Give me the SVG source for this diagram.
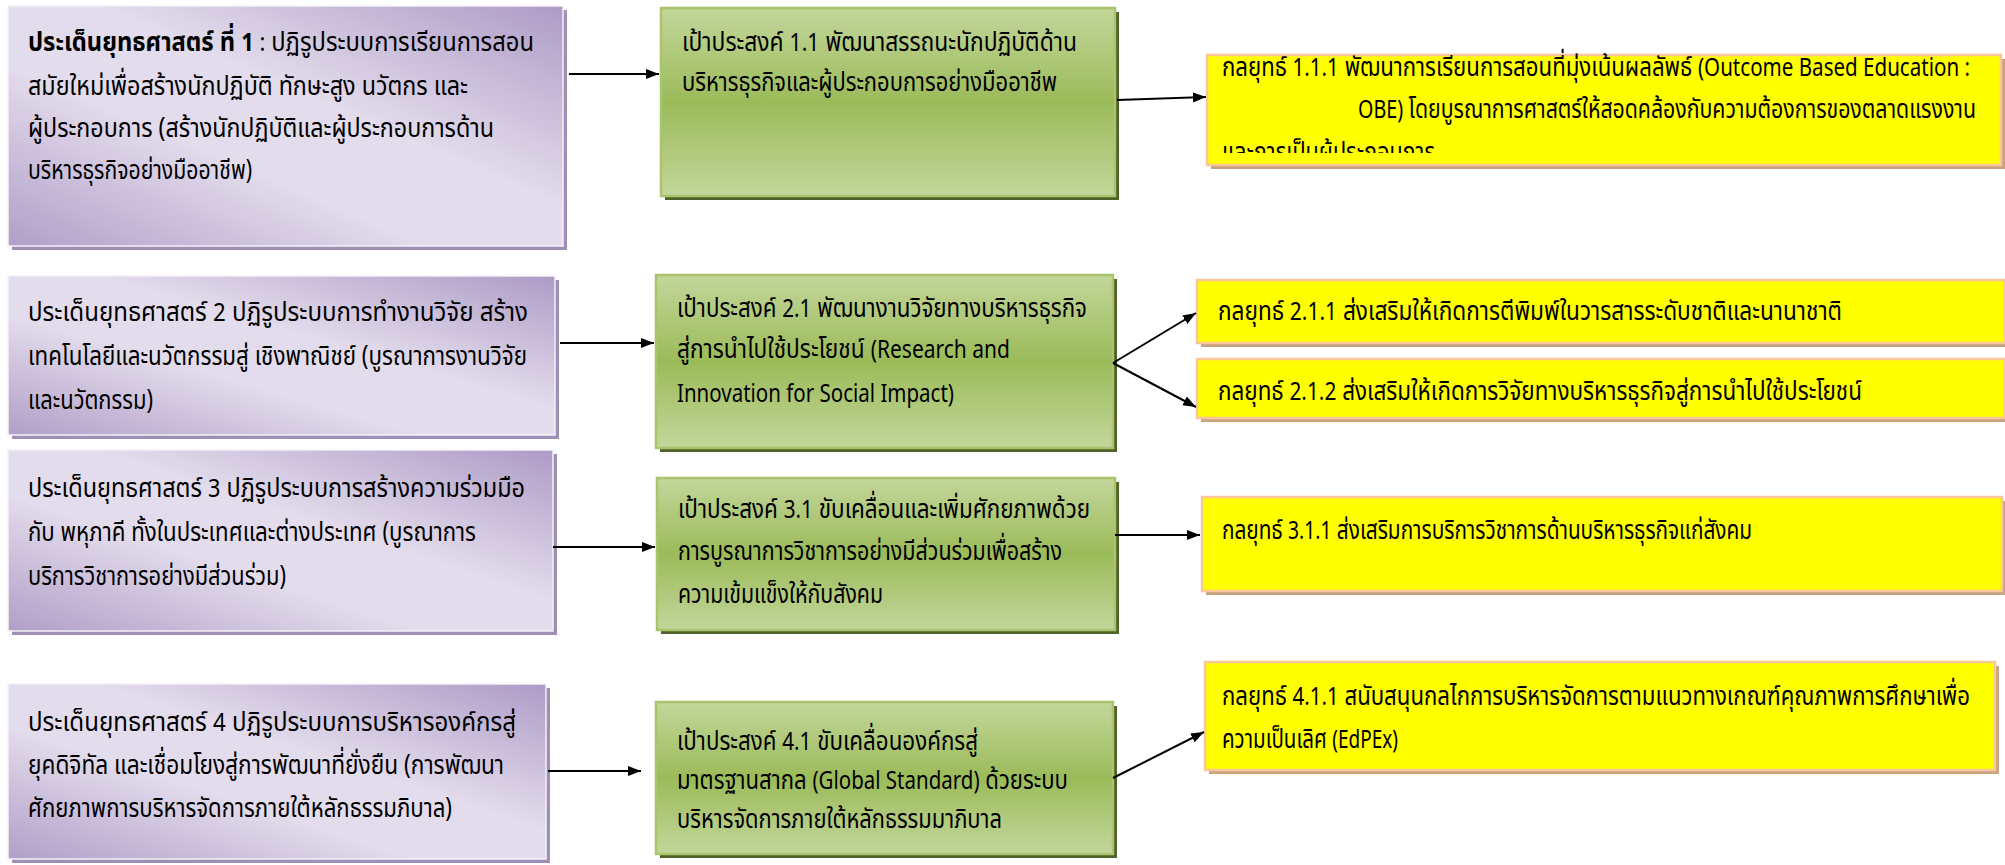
<svg xmlns="http://www.w3.org/2000/svg" width="2005" height="865" viewBox="0 0 2005 865" xml:space="preserve">
<style>
text{font-family:"Noto Sans Thai","Noto Sans","Liberation Sans",sans-serif;font-size:27px;fill:#000}
.l{font-size:25px}
.b{font-weight:bold}
.pbox{fill:url(#gp);stroke:#f4f1f8;stroke-width:1.5}
.psh{fill:#9e90b4}
.gbox{fill:url(#gg);stroke:#a9c46d;stroke-width:2.5}
.gsh{fill:#4f6228}
.ybox{fill:#ffff00;stroke:#fbc59a;stroke-width:2.5}
.ysh{fill:#c8a382}
.con line{stroke:#000;stroke-width:2;marker-end:url(#ah)}
</style>
<defs>
<linearGradient id="gp" x1="1" y1="0" x2="0" y2="1">
<stop offset="0" stop-color="#ad9bc6"/>
<stop offset="0.42" stop-color="#e3dcec"/>
<stop offset="0.62" stop-color="#e3dcec"/>
<stop offset="1" stop-color="#b09fc8"/>
</linearGradient>
<linearGradient id="gg" x1="0" y1="0" x2="0" y2="1">
<stop offset="0" stop-color="#c3d69b"/>
<stop offset="0.5" stop-color="#9bbb59"/>
<stop offset="1" stop-color="#c3d69b"/>
</linearGradient>
<clipPath id="cy1"><rect x="1207" y="55" width="791" height="98"/></clipPath>
<marker id="ah" markerUnits="userSpaceOnUse" markerWidth="14" markerHeight="12" refX="13" refY="5" orient="auto">
<path d="M0,0 L13,5 L0,10 z" fill="#000"/>
</marker>
</defs>

<g id="p1">
<rect class="psh" x="12" y="10" width="555" height="240"/>
<rect class="pbox" x="8" y="6" width="555" height="240"/>
<text x="28" y="51" textLength="506" lengthAdjust="spacingAndGlyphs"><tspan class="b">ประเด็นยุทธศาสตร์ ที่ </tspan><tspan class="b l">1</tspan><tspan class="l"> : </tspan>ปฏิรูประบบการเรียนการสอน</text>
<text x="28" y="95" textLength="440" lengthAdjust="spacingAndGlyphs">สมัยใหม่เพื่อสร้างนักปฏิบัติ  ทักษะสูง นวัตกร และ</text>
<text x="28" y="137" textLength="466" lengthAdjust="spacingAndGlyphs">ผู้ประกอบการ (สร้างนักปฏิบัติและผู้ประกอบการด้าน</text>
<text x="28" y="179" textLength="224" lengthAdjust="spacingAndGlyphs">บริหารธุรกิจอย่างมืออาชีพ)</text>
</g>

<g id="g1">
<rect class="gsh" x="665" y="12" width="454" height="188"/>
<rect class="gbox" x="661" y="8" width="454" height="188"/>
<text x="682" y="51" textLength="395" lengthAdjust="spacingAndGlyphs">เป้าประสงค์  <tspan class="l">1.1</tspan>  พัฒนาสรรถนะนักปฏิบัติด้าน</text>
<text x="682" y="91" textLength="375" lengthAdjust="spacingAndGlyphs">บริหารธุรกิจและผู้ประกอบการอย่างมืออาชีพ</text>
</g>

<g id="y1">
<rect class="ysh" x="1211" y="59" width="794" height="110"/>
<rect class="ybox" x="1207" y="55" width="794" height="110"/>
<text x="1222" y="76" textLength="748" lengthAdjust="spacingAndGlyphs">กลยุทธ์  <tspan class="l">1.1.1</tspan> พัฒนาการเรียนการสอนที่มุ่งเน้นผลลัพธ์ <tspan class="l">(Outcome Based Education :</tspan></text>
<text x="1358" y="118" textLength="618" lengthAdjust="spacingAndGlyphs"><tspan class="l">OBE)</tspan> โดยบูรณาการศาสตร์ให้สอดคล้องกับความต้องการของตลาดแรงงาน</text>
<text x="1222" y="161" textLength="213" lengthAdjust="spacingAndGlyphs" clip-path="url(#cy1)">และการเป็นผู้ประกอบการ</text>
</g>

<g id="p2">
<rect class="psh" x="12" y="280" width="547" height="159"/>
<rect class="pbox" x="8" y="276" width="547" height="159"/>
<text x="28" y="321" textLength="500" lengthAdjust="spacingAndGlyphs">ประเด็นยุทธศาสตร์ <tspan class="l">2</tspan>  ปฏิรูประบบการทำงานวิจัย สร้าง</text>
<text x="28" y="365" textLength="499" lengthAdjust="spacingAndGlyphs">เทคโนโลยีและนวัตกรรมสู่   เชิงพาณิชย์ (บูรณาการงานวิจัย</text>
<text x="28" y="409" textLength="125" lengthAdjust="spacingAndGlyphs">และนวัตกรรม)</text>
</g>

<g id="g2">
<rect class="gsh" x="660" y="279" width="457" height="173"/>
<rect class="gbox" x="656" y="275" width="457" height="173"/>
<text x="677" y="317" textLength="410" lengthAdjust="spacingAndGlyphs">เป้าประสงค์  <tspan class="l">2.1</tspan> พัฒนางานวิจัยทางบริหารธุรกิจ</text>
<text x="677" y="358" textLength="333" lengthAdjust="spacingAndGlyphs">สู่การนำไปใช้ประโยชน์ <tspan class="l">(Research and</tspan></text>
<text x="677" y="402" textLength="277" lengthAdjust="spacingAndGlyphs" class="l">Innovation for Social Impact)</text>
</g>

<g id="y21">
<rect class="ysh" x="1201" y="284" width="804" height="63"/>
<rect class="ybox" x="1197" y="280" width="808" height="63"/>
<text x="1218" y="320" textLength="624" lengthAdjust="spacingAndGlyphs">กลยุทธ์  <tspan class="l">2.1.1</tspan>  ส่งเสริมให้เกิดการตีพิมพ์ในวารสารระดับชาติและนานาชาติ</text>
</g>

<g id="y22">
<rect class="ysh" x="1201" y="363" width="804" height="59"/>
<rect class="ybox" x="1197" y="359" width="808" height="59"/>
<text x="1218" y="400" textLength="644" lengthAdjust="spacingAndGlyphs">กลยุทธ์  <tspan class="l">2.1.2</tspan>  ส่งเสริมให้เกิดการวิจัยทางบริหารธุรกิจสู่การนำไปใช้ประโยชน์</text>
</g>

<g id="p3">
<rect class="psh" x="12" y="454" width="545" height="181"/>
<rect class="pbox" x="8" y="450" width="545" height="181"/>
<text x="28" y="497" textLength="497" lengthAdjust="spacingAndGlyphs">ประเด็นยุทธศาสตร์ <tspan class="l">3</tspan> ปฏิรูประบบการสร้างความร่วมมือ</text>
<text x="28" y="541" textLength="448" lengthAdjust="spacingAndGlyphs">กับ พหุภาคี ทั้งในประเทศและต่างประเทศ (บูรณาการ</text>
<text x="28" y="585" textLength="258" lengthAdjust="spacingAndGlyphs">บริการวิชาการอย่างมีส่วนร่วม)</text>
</g>

<g id="g3">
<rect class="gsh" x="661" y="482" width="458" height="152"/>
<rect class="gbox" x="657" y="478" width="458" height="152"/>
<text x="678" y="518" textLength="412" lengthAdjust="spacingAndGlyphs">เป้าประสงค์  <tspan class="l">3.1</tspan> ขับเคลื่อนและเพิ่มศักยภาพด้วย</text>
<text x="678" y="560" textLength="384" lengthAdjust="spacingAndGlyphs">การบูรณาการวิชาการอย่างมีส่วนร่วมเพื่อสร้าง</text>
<text x="678" y="603" textLength="205" lengthAdjust="spacingAndGlyphs">ความเข้มแข็งให้กับสังคม</text>
</g>

<g id="y3">
<rect class="ysh" x="1206" y="501" width="800" height="94"/>
<rect class="ybox" x="1202" y="497" width="800" height="94"/>
<text x="1222" y="539" textLength="530" lengthAdjust="spacingAndGlyphs">กลยุทธ์  <tspan class="l">3.1.1</tspan>  ส่งเสริมการบริการวิชาการด้านบริหารธุรกิจแก่สังคม</text>
</g>

<g id="p4">
<rect class="psh" x="12" y="688" width="538" height="175"/>
<rect class="pbox" x="8" y="684" width="538" height="175"/>
<text x="28" y="731" textLength="488" lengthAdjust="spacingAndGlyphs">ประเด็นยุทธศาสตร์ <tspan class="l">4</tspan> ปฏิรูประบบการบริหารองค์กรสู่</text>
<text x="28" y="774" textLength="476" lengthAdjust="spacingAndGlyphs">ยุคดิจิทัล และเชื่อมโยงสู่การพัฒนาที่ยั่งยืน (การพัฒนา</text>
<text x="28" y="817" textLength="424" lengthAdjust="spacingAndGlyphs">ศักยภาพการบริหารจัดการภายใต้หลักธรรมภิบาล)</text>
</g>

<g id="g4">
<rect class="gsh" x="660" y="706" width="457" height="152"/>
<rect class="gbox" x="656" y="702" width="457" height="152"/>
<text x="677" y="750" textLength="301" lengthAdjust="spacingAndGlyphs">เป้าประสงค์  <tspan class="l">4.1</tspan> ขับเคลื่อนองค์กรสู่</text>
<text x="677" y="789" textLength="391" lengthAdjust="spacingAndGlyphs">มาตรฐานสากล <tspan class="l">(Global Standard)</tspan> ด้วยระบบ</text>
<text x="677" y="828" textLength="325" lengthAdjust="spacingAndGlyphs">บริหารจัดการภายใต้หลักธรรมมาภิบาล</text>
</g>

<g id="y4">
<rect class="ysh" x="1209" y="666" width="790" height="108"/>
<rect class="ybox" x="1205" y="662" width="790" height="108"/>
<text x="1222" y="705" textLength="748" lengthAdjust="spacingAndGlyphs">กลยุทธ์  <tspan class="l">4.1.1</tspan>  สนับสนุนกลไกการบริหารจัดการตามแนวทางเกณฑ์คุณภาพการศึกษาเพื่อ</text>
<text x="1222" y="748" textLength="176" lengthAdjust="spacingAndGlyphs">ความเป็นเลิศ <tspan class="l">(EdPEx)</tspan></text>
</g>

<g id="connectors" class="con">
<line x1="569" y1="74" x2="659" y2="74"/>
<line x1="1117" y1="100" x2="1206" y2="97"/>
<line x1="560" y1="343" x2="654" y2="343"/>
<line x1="1113" y1="363" x2="1196" y2="313"/>
<line x1="1113" y1="363" x2="1196" y2="407"/>
<line x1="553" y1="547" x2="655" y2="547"/>
<line x1="1115" y1="535" x2="1200" y2="535"/>
<line x1="548" y1="771" x2="641" y2="771"/>
<line x1="1113" y1="778" x2="1204" y2="732"/>
</g>
</svg>
